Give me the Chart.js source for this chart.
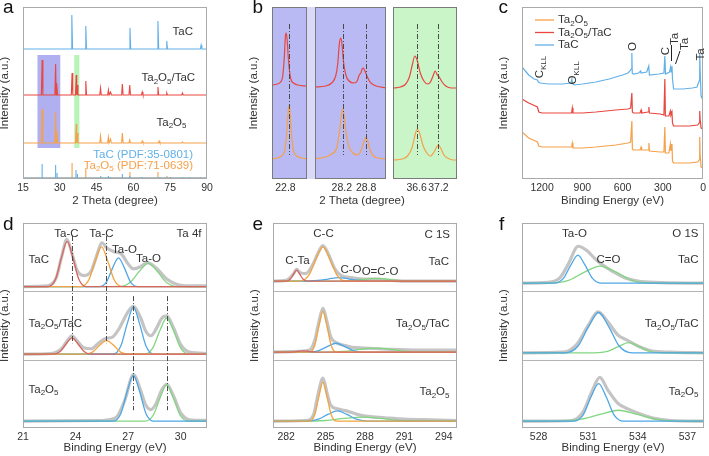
<!DOCTYPE html>
<html>
<head>
<meta charset="utf-8">
<script src="https://cdn.jsdelivr.net/npm/chart.js@4.4.1/dist/chart.umd.min.js"></script>
<style>
  body { margin: 0; background: #fff; }
  #fig { position: relative; width: 709px; height: 456px; overflow: hidden; background: #fff; }
  #fig canvas { position: absolute; }
</style>
</head>
<body>
<div id="fig"></div>
<script>
// ---------- a: XRD patterns ----------
const aTicks = [15, 30, 45, 60, 75, 90];
const xrdBaselines = [130, 84, 36]; // TaC, Ta2O5/TaC, Ta2O5 (stack offsets)
const xrdTaC = [[34.9, 34], [40.6, 23], [58.6, 21], [70.0, 28], [73.6, 8], [87.6, 4]];
const xrdMix = [[22.8, 35], [28.3, 31], [28.8, 12], [35.0, 22], [36.7, 20], [37.1, 10], [40.6, 14], [46.6, 7], [49.8, 5], [50.7, 3],
                [55.5, 11], [58.5, 10], [63.6, 3], [70.0, 8], [73.6, 2], [80.0, 2]];
const xrdOx = [[22.8, 34], [28.3, 31], [28.8, 13], [36.7, 19], [37.1, 10], [46.6, 7], [49.8, 6], [50.7, 4], [55.5, 10], [58.5, 3],
               [63.6, 2], [70.5, 2], [80.0, 1]];
// reference sticks (bottom)
const pdfBlue = [[22.8, 14], [28.3, 13], [28.9, 5], [36.6, 8], [37.2, 4], [46.7, 2], [49.8, 2], [50.6, 1], [55.5, 4], [58.5, 2],
                 [63.5, 1], [70.5, 1], [75.0, 1], [80.0, 1], [83.0, 1]];
const pdfOrange = [[35.0, 15], [40.6, 10], [58.6, 6], [70.0, 6], [73.7, 2], [87.5, 1]];

// ---------- b: zoomed XRD ----------
const bRanges = [[22.47, 23.33], [27.54, 29.29], [35.95, 37.71]];
const bTicks = [[22.8], [28.2, 28.8], [36.6, 37.2]];
const bRefLines = [[22.88], [28.22, 28.8], [36.62, 37.2]];
const bRed1 = [[22.47, 94], [22.6, 95], [22.68, 97], [22.73, 102], [22.77, 120], [22.8, 143], [22.82, 146], [22.84, 140], [22.87, 122],
               [22.9, 108], [22.94, 99], [23.0, 96], [23.1, 94], [23.33, 93]];
const bOrange1 = [[22.47, 20], [22.6, 21], [22.7, 23], [22.78, 28], [22.83, 45], [22.87, 68], [22.89, 74], [22.91, 68], [22.95, 45],
                  [23.0, 28], [23.08, 23], [23.2, 21], [23.33, 20]];
const bRed2 = [[27.54, 92], [27.8, 93], [27.95, 96], [28.05, 103], [28.1, 115], [28.14, 135], [28.17, 141], [28.2, 137], [28.24, 118],
               [28.3, 104], [28.38, 98], [28.5, 96], [28.58, 98], [28.63, 104], [28.67, 106], [28.7, 110], [28.73, 111], [28.77, 108],
               [28.82, 103], [28.88, 98], [28.95, 95], [29.05, 93], [29.29, 91]];
const bOrange2 = [[27.54, 20], [27.8, 22], [27.95, 25], [28.08, 32], [28.15, 50], [28.2, 66], [28.22, 70], [28.25, 66], [28.3, 48],
                  [28.38, 32], [28.48, 26], [28.58, 24], [28.66, 27], [28.72, 34], [28.77, 40], [28.8, 42], [28.84, 38], [28.9, 29],
                  [28.98, 23], [29.1, 21], [29.29, 20]];
const bRed3 = [[35.95, 91], [36.15, 92], [36.3, 95], [36.4, 102], [36.48, 114], [36.55, 123], [36.62, 118], [36.7, 106], [36.8, 98],
               [36.9, 95], [36.98, 97], [37.05, 103], [37.11, 108], [37.17, 104], [37.22, 102], [37.3, 97], [37.4, 93], [37.55, 91], [37.71, 91]];
const bOrange3 = [[35.95, 19], [36.2, 20], [36.35, 23], [36.48, 32], [36.57, 46], [36.62, 50], [36.68, 46], [36.78, 33], [36.88, 26],
                  [36.98, 23], [37.08, 27], [37.15, 32], [37.2, 34], [37.26, 31], [37.35, 24], [37.45, 21], [37.6, 19], [37.71, 19]];

// ---------- c: XPS survey ----------
const cTicks = [1200, 900, 600, 300, 0];
const cTaC = [[1350, 112], [1300, 104], [1260, 100], [1235, 99], [1228, 97], [1215, 96], [1150, 95], [1050, 95], [985, 96], [978, 100],
              [972, 95], [960, 94], [900, 95], [800, 97], [700, 100], [600, 104], [560, 106], [545, 108], [536, 110], [531, 126],
              [528, 106], [520, 105], [480, 106], [465, 108], [462, 106], [420, 107], [405, 113], [400, 104], [330, 105], [292, 106],
              [285, 123], [280, 105], [250, 107], [242, 112], [238, 107], [232, 113], [228, 100], [220, 90], [150, 90], [80, 91],
              [45, 92], [30, 98], [25, 126], [22, 110], [15, 83], [5, 80], [0, 79]];
const cMix = [[1350, 80], [1300, 76], [1250, 73], [1235, 72], [1225, 67], [1200, 66], [1100, 66], [1000, 66], [980, 66], [975, 71],
              [970, 66], [900, 66], [800, 67], [650, 69], [560, 70], [540, 71], [531, 86], [527, 67], [520, 66], [470, 66], [462, 69],
              [458, 66], [410, 67], [404, 72], [400, 66], [320, 65], [292, 64], [285, 100], [281, 63], [255, 63], [244, 68], [240, 64],
              [232, 67], [228, 56], [220, 53], [100, 53], [40, 54], [30, 56], [25, 68], [22, 60], [15, 51], [0, 50]];
const cOx = [[1350, 47], [1300, 41], [1250, 38], [1235, 37], [1225, 33], [1200, 32], [1100, 32], [1000, 32], [980, 32], [975, 36],
             [970, 31], [900, 31], [800, 32], [650, 34], [560, 36], [540, 37], [531, 58], [527, 30], [520, 29], [470, 29], [462, 32],
             [458, 29], [410, 29], [404, 36], [400, 28], [320, 27], [292, 27], [285, 52], [281, 26], [255, 26], [244, 35], [240, 28],
             [232, 35], [228, 18], [220, 16], [100, 16], [40, 17], [30, 19], [25, 42], [22, 25], [15, 12], [0, 11]];

// ---------- d: Ta 4f (stacked: 2 = TaC, 1 = Ta2O5/TaC, 0 = Ta2O5) ----------
const dTicks = [21, 24, 27, 30];
const dTaCRed = [[22.44, 2.07], [22.86, 2.18], [23.19, 2.49], [23.52, 2.73], [23.85, 2.49], [24.18, 2.18], [24.60, 2.07]];
const dTaCOrange = [[24.31, 2.07], [24.76, 2.17], [25.12, 2.44], [25.48, 2.65], [25.84, 2.44], [26.20, 2.17], [26.65, 2.07]];
const dTaCBlue = [[25.35, 2.07], [25.77, 2.14], [26.11, 2.34], [26.45, 2.49], [26.79, 2.34], [27.13, 2.14], [27.55, 2.07]];
const dTaCGreen = [[26.46, 2.07], [27.11, 2.13], [27.63, 2.29], [28.15, 2.41], [28.67, 2.29], [29.19, 2.13], [29.84, 2.07]];
const dTaCRaw = [[21, 2.07], [22.4, 2.08], [22.9, 2.2], [23.2, 2.5], [23.5, 2.76], [23.8, 2.55], [24.1, 2.3], [24.5, 2.23], [24.9, 2.3],
                 [25.2, 2.52], [25.5, 2.71], [25.8, 2.63], [26.2, 2.58], [26.6, 2.55], [27.0, 2.4], [27.3, 2.33], [27.7, 2.36],
                 [28.1, 2.42], [28.6, 2.34], [29.2, 2.18], [29.8, 2.1], [30.5, 2.08], [31.5, 2.08]];
const dMixRed = [[22.70, 1.08], [23.12, 1.12], [23.46, 1.23], [23.80, 1.32], [24.14, 1.23], [24.48, 1.12], [24.90, 1.08]];
const dMixOrange = [[24.47, 1.08], [24.97, 1.11], [25.37, 1.21], [25.77, 1.28], [26.17, 1.21], [26.57, 1.11], [27.07, 1.08]];
const dMixBlue = [[26.13, 1.08], [26.58, 1.20], [26.94, 1.52], [27.30, 1.77], [27.66, 1.52], [28.02, 1.20], [28.47, 1.08]];
const dMixGreen = [[27.90, 1.08], [28.40, 1.17], [28.80, 1.42], [29.20, 1.61], [29.60, 1.42], [30.00, 1.17], [30.50, 1.08]];
const dMixRaw = [[21, 1.08], [22.6, 1.09], [23.2, 1.16], [23.5, 1.27], [23.8, 1.35], [24.1, 1.27], [24.5, 1.17], [24.9, 1.16],
                 [25.3, 1.24], [25.7, 1.31], [26.1, 1.33], [26.5, 1.46], [26.9, 1.66], [27.3, 1.78], [27.7, 1.62], [28.0, 1.42],
                 [28.3, 1.35], [28.6, 1.45], [28.9, 1.6], [29.2, 1.64], [29.6, 1.46], [30.0, 1.22], [30.5, 1.11], [31.5, 1.09]];
const dOxBlue = [[26.13, 0.10], [26.58, 0.21], [26.94, 0.53], [27.30, 0.77], [27.66, 0.53], [28.02, 0.21], [28.47, 0.10]];
const dOxGreen = [[27.96, 0.10], [28.44, 0.19], [28.82, 0.44], [29.20, 0.63], [29.58, 0.44], [29.96, 0.19], [30.44, 0.10]];
const dOxRaw = [[21, 0.1], [25.5, 0.11], [26.3, 0.15], [26.8, 0.4], [27.3, 0.78], [27.7, 0.56], [28.0, 0.34], [28.3, 0.27], [28.6, 0.36],
                [28.9, 0.55], [29.2, 0.64], [29.6, 0.46], [30.0, 0.22], [30.5, 0.12], [31.5, 0.11]];

// ---------- e: C 1s ----------
const eTicks = [282, 285, 288, 291, 294];
const eTaCRed = [[282.02, 2.15], [282.32, 2.18], [282.56, 2.25], [282.80, 2.31], [283.04, 2.25], [283.28, 2.18], [283.58, 2.15]];
const eTaCOrange = [[283.08, 2.15], [283.74, 2.24], [284.27, 2.47], [284.80, 2.65], [285.33, 2.47], [285.86, 2.24], [286.52, 2.15]];
const eTaCBlue = [[283.4, 2.15], [284.4, 2.16], [285.2, 2.18], [286.0, 2.20], [286.8, 2.18], [287.6, 2.16], [288.6, 2.15]];
const eTaCGreen = [[286.2, 2.15], [287.2, 2.16], [288.0, 2.18], [288.8, 2.19], [289.6, 2.18], [290.4, 2.16], [291.4, 2.15]];
const eTaCRaw = [[281, 2.15], [282.0, 2.16], [282.5, 2.24], [282.8, 2.32], [283.1, 2.27], [283.5, 2.26], [284.0, 2.38], [284.4, 2.55],
                 [284.8, 2.67], [285.2, 2.55], [285.7, 2.33], [286.2, 2.23], [287, 2.2], [288, 2.18], [289, 2.18], [290, 2.16],
                 [291, 2.15], [295, 2.15]];
const eMixRed = [[282.13, 1.11], [282.58, 1.113], [282.94, 1.123], [283.30, 1.13], [283.66, 1.123], [284.02, 1.113], [284.47, 1.11]];
const eMixOrange = [[283.79, 1.11], [284.18, 1.21], [284.49, 1.49], [284.80, 1.71], [285.11, 1.49], [285.42, 1.21], [285.81, 1.11]];
const eMixBlue = [[283.59, 1.11], [284.44, 1.13], [285.12, 1.19], [285.80, 1.24], [286.48, 1.19], [287.16, 1.13], [288.01, 1.11]];
const eMixGreen = [[284.9, 1.11], [286.4, 1.12], [287.6, 1.15], [288.8, 1.17], [290.0, 1.15], [291.2, 1.12], [292.7, 1.11]];
const eMixRaw = [[281, 1.11], [283, 1.12], [283.8, 1.14], [284.2, 1.3], [284.5, 1.56], [284.8, 1.75], [285.1, 1.56], [285.4, 1.33],
                 [285.8, 1.25], [286.4, 1.21], [287, 1.18], [288, 1.17], [289, 1.16], [290, 1.15], [292, 1.14], [295, 1.14]];
const eOxOrange = [[283.79, 0.10], [284.18, 0.20], [284.49, 0.46], [284.80, 0.67], [285.11, 0.46], [285.42, 0.20], [285.81, 0.10]];
const eOxBlue = [[283.56, 0.10], [284.46, 0.13], [285.18, 0.20], [285.90, 0.25], [286.62, 0.20], [287.34, 0.13], [288.24, 0.10]];
const eOxGreen = [[283.25, 0.10], [285.0, 0.11], [286.4, 0.14], [287.8, 0.16], [289.2, 0.14], [290.6, 0.11], [292.35, 0.10]];
const eOxRaw = [[281, 0.1], [283.5, 0.11], [284.1, 0.2], [284.4, 0.47], [284.8, 0.73], [285.1, 0.52], [285.4, 0.33], [285.9, 0.28],
                [286.6, 0.25], [287.4, 0.2], [288.2, 0.17], [289.5, 0.15], [291, 0.13], [293, 0.12], [295, 0.11]];

// ---------- f: O 1s ----------
const fTicks = [528, 531, 534, 537];
const fTaCBlue = [[528.95, 2.12], [529.50, 2.19], [529.94, 2.38], [530.38, 2.53], [530.82, 2.38], [531.26, 2.19], [531.81, 2.12]];
const fTaCGreen = [[528.61, 2.12], [529.81, 2.16], [530.77, 2.28], [531.73, 2.37], [532.69, 2.28], [533.65, 2.16], [534.85, 2.12]];
const fTaCRaw = [[527, 2.12], [528.6, 2.13], [529.3, 2.2], [529.8, 2.4], [530.4, 2.66], [530.9, 2.6], [531.4, 2.48], [531.9, 2.38],
                 [532.5, 2.29], [533.2, 2.2], [534, 2.15], [535, 2.13], [538, 2.12]];
const fMixBlue = [[529.61, 1.10], [530.39, 1.20], [531.01, 1.48], [531.63, 1.69], [532.25, 1.48], [532.87, 1.20], [533.65, 1.10]];
const fMixGreen = [[531.37, 1.10], [532.17, 1.12], [532.81, 1.19], [533.45, 1.25], [534.09, 1.19], [534.73, 1.12], [535.53, 1.10]];
const fMixRaw = [[527, 1.1], [529.5, 1.11], [530.3, 1.22], [531, 1.5], [531.6, 1.7], [532.2, 1.55], [532.8, 1.36], [533.4, 1.28],
                 [534, 1.2], [534.8, 1.13], [536, 1.11], [538, 1.1]];
const fOxBlue = [[530.11, 0.10], [530.69, 0.19], [531.16, 0.45], [531.63, 0.65], [532.10, 0.45], [532.57, 0.19], [533.15, 0.10]];
const fOxGreen = [[529.20, 0.10], [530.60, 0.13], [531.72, 0.20], [532.84, 0.26], [533.96, 0.20], [535.08, 0.13], [536.48, 0.10]];
const fOxRaw = [[527, 0.1], [530, 0.11], [530.7, 0.24], [531.2, 0.52], [531.7, 0.74], [532.2, 0.55], [532.8, 0.36], [533.4, 0.28],
                [534.2, 0.2], [535, 0.14], [536, 0.11], [538, 0.1]];

// ---------- styling ----------
const FONT = "'Liberation Sans', Arial, Helvetica, sans-serif";
const TXT = '#333';
const XBLUE = '#62b0e8', XRED = '#e8463f', XORANGE = '#f6a04a';
const PRED = '#d7665f', PORANGE = '#f3a43e', PBLUE = '#4ea7e6', PGREEN = '#82d682', PGRAY = 'rgba(190,190,190,0.9)';
Chart.defaults.font.family = FONT;
Chart.defaults.color = TXT;

const fig = document.getElementById('fig');

function ln(data, color, width, extra) {
    return Object.assign({ data: data, borderColor: color, borderWidth: width, pointRadius: 0, fill: false, tension: 0 }, extra || {});
}
// pad a fitted component with flat baseline out to the axis range
function full(pts, lo, hi) {
    return [[lo, pts[0][1]]].concat(pts, [[hi, pts[pts.length - 1][1]]]);
}
function comp(pts, color, lo, hi) {
    return ln(full(pts, lo, hi), color, 1.3, { cubicInterpolationMode: 'monotone', order: 1 });
}
function raw(pts) {
    return ln(pts, PGRAY, 3.2, { cubicInterpolationMode: 'monotone', order: 2 });
}
// narrow XRD reflections on a flat offset baseline
function spikes(peaks, base) {
    const pts = [[15, base], [90, base]];
    peaks.forEach(([p, h]) => pts.push([p - 0.3, base], [p, base + h], [p + 0.3, base]));
    return pts.sort((a, b) => a[0] - b[0]);
}
function sticks(list) {
    const pts = [[15, 1]];
    list.forEach(([p, h]) => pts.push([p, 1], [p, 1 + h], [p, 1]));
    pts.push([90, 1]);
    return pts;
}

// text with _{..} subscripts
function rich(ctx, s, x, y, align, size, color, rot) {
    const parts = [];
    s.split(/(_\{[^}]*\})/).forEach(p => {
        if (!p) return;
        const m = p.match(/^_\{(.*)\}$/);
        parts.push(m ? { t: m[1], sub: true } : { t: p, sub: false });
    });
    const fN = size + 'px ' + FONT, fS = Math.round(size * 0.68) + 'px ' + FONT;
    let w = 0;
    parts.forEach(p => { ctx.font = p.sub ? fS : fN; p.w = ctx.measureText(p.t).width; w += p.w; });
    ctx.save();
    ctx.translate(x, y);
    if (rot) ctx.rotate(rot);
    ctx.fillStyle = color;
    ctx.textBaseline = 'middle';
    ctx.textAlign = 'left';
    let cx = align === 'center' ? -w / 2 : align === 'right' ? -w : 0;
    parts.forEach(p => { ctx.font = p.sub ? fS : fN; ctx.fillText(p.t, cx, p.sub ? size * 0.3 : 0); cx += p.w; });
    ctx.restore();
}

function deco(box, d) {
    return {
        id: 'deco',
        beforeDatasetsDraw(chart) {
            const ctx = chart.ctx, sx = chart.scales.x, sy = chart.scales.y, ca = chart.chartArea;
            ctx.save();
            if (d.bg) { ctx.fillStyle = d.bg; ctx.fillRect(ca.left, ca.top, ca.right - ca.left, ca.bottom - ca.top); }
            (d.fills || []).forEach(f => { ctx.fillStyle = f.c; ctx.fillRect(f.x0 - box.x, f.y0 - box.y, f.x1 - f.x0, f.y1 - f.y0); });
            (d.rects || []).forEach(r => {
                const x0 = sx.getPixelForValue(r.x0), x1 = sx.getPixelForValue(r.x1);
                const y0 = sy.getPixelForValue(r.y1), y1 = sy.getPixelForValue(r.y0);
                ctx.fillStyle = r.c;
                ctx.fillRect(x0, y0, x1 - x0, y1 - y0);
            });
            ctx.restore();
        },
        afterDraw(chart) {
            const ctx = chart.ctx, sx = chart.scales.x, sy = chart.scales.y, ca = chart.chartArea;
            ctx.save();
            ctx.lineWidth = 1;
            (d.dividers || []).forEach(v => {
                const py = Math.round(sy.getPixelForValue(v)) + 0.5;
                ctx.strokeStyle = '#b4b4b4';
                ctx.beginPath(); ctx.moveTo(ca.left, py); ctx.lineTo(ca.right, py); ctx.stroke();
            });
            (d.vlines || []).forEach(v => {
                const px = Math.round(sx.getPixelForValue(v.x)) + 0.5;
                ctx.strokeStyle = '#4a4a4a';
                ctx.setLineDash([5, 2, 1, 2]);
                ctx.beginPath(); ctx.moveTo(px, sy.getPixelForValue(v.y1)); ctx.lineTo(px, sy.getPixelForValue(v.y0)); ctx.stroke();
            });
            ctx.setLineDash([]);
            (d.segs || []).forEach(s => {
                ctx.strokeStyle = s.c || '#222';
                ctx.lineWidth = s.w || 1;
                ctx.beginPath(); ctx.moveTo(s.x0 - box.x, s.y0 - box.y); ctx.lineTo(s.x1 - box.x, s.y1 - box.y); ctx.stroke();
            });
            ctx.lineWidth = 1;
            ctx.strokeStyle = d.frame || '#aaa';
            ctx.strokeRect(Math.round(ca.left) + 0.5, Math.round(ca.top) + 0.5,
                           Math.round(ca.right - ca.left) - 1, Math.round(ca.bottom - ca.top) - 1);
            (d.legend || []).forEach(l => {
                ctx.strokeStyle = l.c; ctx.lineWidth = 1.3;
                ctx.beginPath(); ctx.moveTo(535 - box.x, l.y - box.y); ctx.lineTo(554 - box.x, l.y - box.y); ctx.stroke();
                rich(ctx, l.t, 558 - box.x, l.y - box.y, 'left', 11.5, TXT, 0);
            });
            (d.texts || []).forEach(t => rich(ctx, t.t, t.x - box.x, t.y - box.y, t.a || 'left', t.s || 11.5, t.c || TXT, t.r || 0));
            if (d.letter) {
                ctx.font = '19px ' + FONT;
                ctx.fillStyle = '#111';
                ctx.textBaseline = 'alphabetic';
                ctx.textAlign = 'left';
                ctx.fillText(d.letter[0], d.letter[1] - box.x, d.letter[2] - box.y);
            }
            ctx.restore();
        }
    };
}

function makeChart(box, plot, o) {
    const cv = document.createElement('canvas');
    cv.width = box.w; cv.height = box.h;
    cv.style.left = box.x + 'px'; cv.style.top = box.y + 'px';
    fig.appendChild(cv);
    const yW = plot.l - box.x, xH = box.y + box.h - plot.b;
    return new Chart(cv.getContext('2d'), {
        type: 'line',
        data: { datasets: o.datasets },
        options: {
            responsive: false,
            animation: false,
            events: [],
            layout: { padding: { left: 0, top: plot.t - box.y, right: box.x + box.w - plot.r, bottom: 0 } },
            plugins: { legend: { display: false }, tooltip: { enabled: false } },
            scales: {
                x: {
                    type: 'linear', min: o.xr[0], max: o.xr[1], reverse: !!o.reverse,
                    afterBuildTicks: s => { s.ticks = o.ticks.map(v => ({ value: v })); },
                    afterFit: s => { s.height = xH; },
                    grid: { display: false, drawTicks: false, tickLength: 0 }, border: { display: false },
                    ticks: { padding: 3, autoSkip: false, maxRotation: 0, font: { size: 10.5 }, color: TXT,
                             callback: v => o.fmt ? o.fmt(v) : String(v) },
                    title: { display: !!o.xTitle, text: o.xTitle || '', font: { size: 11.5 }, color: TXT,
                             padding: { top: 0, bottom: box.y + box.h - (o.xTitleY || 0) - 6.9 } }
                },
                y: {
                    type: 'linear', min: o.yr[0], max: o.yr[1],
                    afterFit: s => { s.width = yW; },
                    grid: { display: false, drawTicks: false }, border: { display: false },
                    ticks: { display: false },
                    title: { display: !!o.yTitle, text: 'Intensity (a.u.)', font: { size: 11.5 }, color: TXT,
                             padding: { top: plot.l - 18 - box.x - 6.9, bottom: 0 } }
                }
            }
        },
        plugins: [deco(box, o.deco || {})]
    });
}

// ---------- panel a ----------
makeChart({ x: 0, y: 0, w: 236, h: 215 }, { l: 23, t: 7, r: 207, b: 179 }, {
    xr: [15, 90], yr: [0, 172], ticks: aTicks, xTitle: '2 Theta (degree)', xTitleY: 200.7, yTitle: true,
    datasets: [
        ln(spikes(xrdTaC, xrdBaselines[0]), XBLUE, 1.1),
        ln(spikes(xrdMix, xrdBaselines[1]), XRED, 1.1),
        ln(spikes(xrdOx, xrdBaselines[2]), XORANGE, 1.1),
        ln(sticks(pdfBlue), XBLUE, 1.1),
        ln(sticks(pdfOrange), XORANGE, 1.1)
    ],
    deco: {
        rects: [{ x0: 20.9, x1: 30.2, y0: 31, y1: 124, c: '#b0b0f0' }, { x0: 35.9, x1: 38.0, y0: 31, y1: 124, c: '#b8f3b8' }],
        texts: [
            { t: 'TaC', x: 172.5, y: 32 },
            { t: 'Ta_{2}O_{5}/TaC', x: 141.5, y: 78 },
            { t: 'Ta_{2}O_{5}', x: 156.5, y: 122.5 },
            { t: 'TaC (PDF:35-0801)', x: 193, y: 155, a: 'right', c: XBLUE },
            { t: 'Ta_{2}O_{5} (PDF:71-0639)', x: 193, y: 165.5, a: 'right', c: XORANGE }
        ],
        letter: ['a', 3, 13]
    }
});

// ---------- panel b (three windows) ----------
const boxB = { x: 236, y: 0, w: 236, h: 215 };
const bPlots = [{ l: 272, t: 7, r: 307, b: 179 }, { l: 315, t: 7, r: 386, b: 179 }, { l: 393, t: 7, r: 457, b: 179 }];
const bRed = [bRed1, bRed2, bRed3], bOrange = [bOrange1, bOrange2, bOrange3];
const bBg = ['#b9b9f3', '#b9b9f3', '#c9f5c9'];
bPlots.forEach((plot, i) => {
    const extra = i === 0 ? {
        fills: [{ x0: 307, x1: 315, y0: 7, y1: 179, c: '#d9d9f8' }],
        texts: [{ t: '2 Theta (degree)', x: 362, y: 200.7, a: 'center' }],
        letter: ['b', 252.5, 13]
    } : {};
    makeChart(boxB, plot, {
        xr: bRanges[i], yr: [0, 172], ticks: bTicks[i], fmt: v => v.toFixed(1), yTitle: i === 0,
        datasets: [
            ln(bRed[i], XRED, 1.2, { cubicInterpolationMode: 'monotone' }),
            ln(bOrange[i], XORANGE, 1.2, { cubicInterpolationMode: 'monotone' })
        ],
        deco: Object.assign({
            bg: bBg[i], frame: '#7a7a7a',
            vlines: bRefLines[i].map(x => ({ x: x, y0: 24, y1: 155 }))
        }, extra)
    });
});

// ---------- panel c ----------
makeChart({ x: 472, y: 0, w: 237, h: 215 }, { l: 522, t: 7, r: 704, b: 179 }, {
    xr: [0, 1350], reverse: true, yr: [0, 172], ticks: cTicks, xTitle: 'Binding Energy (eV)', xTitleY: 200.7, yTitle: true,
    datasets: [ln(cTaC, XBLUE, 1.2), ln(cMix, XRED, 1.2), ln(cOx, XORANGE, 1.2)],
    deco: {
        legend: [{ c: XORANGE, t: 'Ta_{2}O_{5}', y: 20 }, { c: XRED, t: 'Ta_{2}O_{5}/TaC', y: 32.5 }, { c: XBLUE, t: 'TaC', y: 45 }],
        texts: [
            { t: 'C_{KLL}', x: 540, y: 67, a: 'center', r: -Math.PI / 2 },
            { t: 'O_{KLL}', x: 573, y: 73, a: 'center', r: -Math.PI / 2 },
            { t: 'O', x: 632.5, y: 46.5, a: 'center', r: -Math.PI / 2 },
            { t: 'C', x: 665.5, y: 51, a: 'center', r: -Math.PI / 2 },
            { t: 'Ta', x: 674.5, y: 39, a: 'center', r: -Math.PI / 2 },
            { t: 'Ta', x: 684.5, y: 44, a: 'center', r: -Math.PI / 2 },
            { t: 'Ta', x: 701, y: 54.5, a: 'center', r: -Math.PI / 2 }
        ],
        segs: [{ x0: 671.5, y0: 45, x1: 671.5, y1: 61 }, { x0: 680, y0: 51, x1: 675.5, y1: 64 }],
        letter: ['c', 498.5, 13]
    }
});

// ---------- panel d ----------
makeChart({ x: 0, y: 210, w: 236, h: 246 }, { l: 23, t: 223, r: 207, b: 428 }, {
    xr: [21, 31.5], yr: [0, 3], ticks: dTicks, xTitle: 'Binding Energy (eV)', xTitleY: 448, yTitle: true,
    datasets: [
        raw(dTaCRaw), raw(dMixRaw), raw(dOxRaw),
        comp(dTaCRed, PRED, 21, 31.5), comp(dTaCOrange, PORANGE, 21, 31.5), comp(dTaCBlue, PBLUE, 21, 31.5), comp(dTaCGreen, PGREEN, 21, 31.5),
        comp(dMixRed, PRED, 21, 31.5), comp(dMixOrange, PORANGE, 21, 31.5), comp(dMixBlue, PBLUE, 21, 31.5), comp(dMixGreen, PGREEN, 21, 31.5),
        comp(dOxBlue, PBLUE, 21, 31.5), comp(dOxGreen, PGREEN, 21, 31.5)
    ],
    deco: {
        dividers: [1, 2],
        vlines: [{ x: 23.78, y0: 1.24, y1: 2.81 }, { x: 25.75, y0: 1.24, y1: 2.81 }, { x: 27.3, y0: 0.26, y1: 1.93 }, { x: 29.22, y0: 0.26, y1: 1.93 }],
        texts: [
            { t: 'Ta-C', x: 66.5, y: 233.5, a: 'center' },
            { t: 'Ta-C', x: 101.5, y: 233.5, a: 'center' },
            { t: 'Ta-O', x: 124.5, y: 249.5, a: 'center' },
            { t: 'Ta-O', x: 148.5, y: 258.5, a: 'center' },
            { t: 'Ta 4f', x: 201.5, y: 233.5, a: 'right' },
            { t: 'TaC', x: 28.5, y: 260 },
            { t: 'Ta_{2}O_{5}/TaC', x: 28.5, y: 323.5 },
            { t: 'Ta_{2}O_{5}', x: 28.5, y: 389.5 }
        ],
        letter: ['d', 3, 229.5]
    }
});

// ---------- panel e ----------
makeChart({ x: 236, y: 210, w: 236, h: 246 }, { l: 273, t: 223, r: 457, b: 428 }, {
    xr: [281, 295], yr: [0, 3], ticks: eTicks, xTitle: 'Binding Energy (eV)', xTitleY: 448, yTitle: true,
    datasets: [
        raw(eTaCRaw), raw(eMixRaw), raw(eOxRaw),
        comp(eTaCRed, PRED, 281, 295), comp(eTaCOrange, PORANGE, 281, 295), comp(eTaCBlue, PBLUE, 281, 295), comp(eTaCGreen, PGREEN, 281, 295),
        comp(eMixRed, PRED, 281, 295), comp(eMixOrange, PORANGE, 281, 295), comp(eMixBlue, PBLUE, 281, 295), comp(eMixGreen, PGREEN, 281, 295),
        comp(eOxOrange, PORANGE, 281, 295), comp(eOxBlue, PBLUE, 281, 295), comp(eOxGreen, PGREEN, 281, 295)
    ],
    deco: {
        dividers: [1, 2],
        texts: [
            { t: 'C-C', x: 323.5, y: 234, a: 'center' },
            { t: 'C-Ta', x: 297.5, y: 260.5, a: 'center' },
            { t: 'C-O', x: 351, y: 270, a: 'center' },
            { t: 'O=C-O', x: 380, y: 272, a: 'center' },
            { t: 'C 1S', x: 450, y: 234.5, a: 'right' },
            { t: 'TaC', x: 449, y: 261.5, a: 'right' },
            { t: 'Ta_{2}O_{5}/TaC', x: 449.5, y: 324, a: 'right' },
            { t: 'Ta_{2}O_{5}', x: 449.5, y: 392, a: 'right' }
        ],
        letter: ['e', 252.5, 229.5]
    }
});

// ---------- panel f ----------
makeChart({ x: 472, y: 210, w: 237, h: 246 }, { l: 522, t: 223, r: 704, b: 428 }, {
    xr: [527, 538], yr: [0, 3], ticks: fTicks, xTitle: 'Binding Energy (eV)', xTitleY: 448, yTitle: true,
    datasets: [
        raw(fTaCRaw), raw(fMixRaw), raw(fOxRaw),
        comp(fTaCBlue, PBLUE, 527, 538), comp(fTaCGreen, PGREEN, 527, 538),
        comp(fMixBlue, PBLUE, 527, 538), comp(fMixGreen, PGREEN, 527, 538),
        comp(fOxBlue, PBLUE, 527, 538), comp(fOxGreen, PGREEN, 527, 538)
    ],
    deco: {
        dividers: [1, 2],
        texts: [
            { t: 'Ta-O', x: 574.5, y: 234, a: 'center' },
            { t: 'C=O', x: 608.5, y: 259.5, a: 'center' },
            { t: 'O 1S', x: 698.5, y: 234, a: 'right' },
            { t: 'TaC', x: 698.5, y: 259.5, a: 'right' },
            { t: 'Ta_{2}O_{5}/TaC', x: 698.5, y: 324, a: 'right' },
            { t: 'Ta_{2}O_{5}', x: 698.5, y: 391.5, a: 'right' }
        ],
        letter: ['f', 499, 229.5]
    }
});
</script>
</body>
</html>
